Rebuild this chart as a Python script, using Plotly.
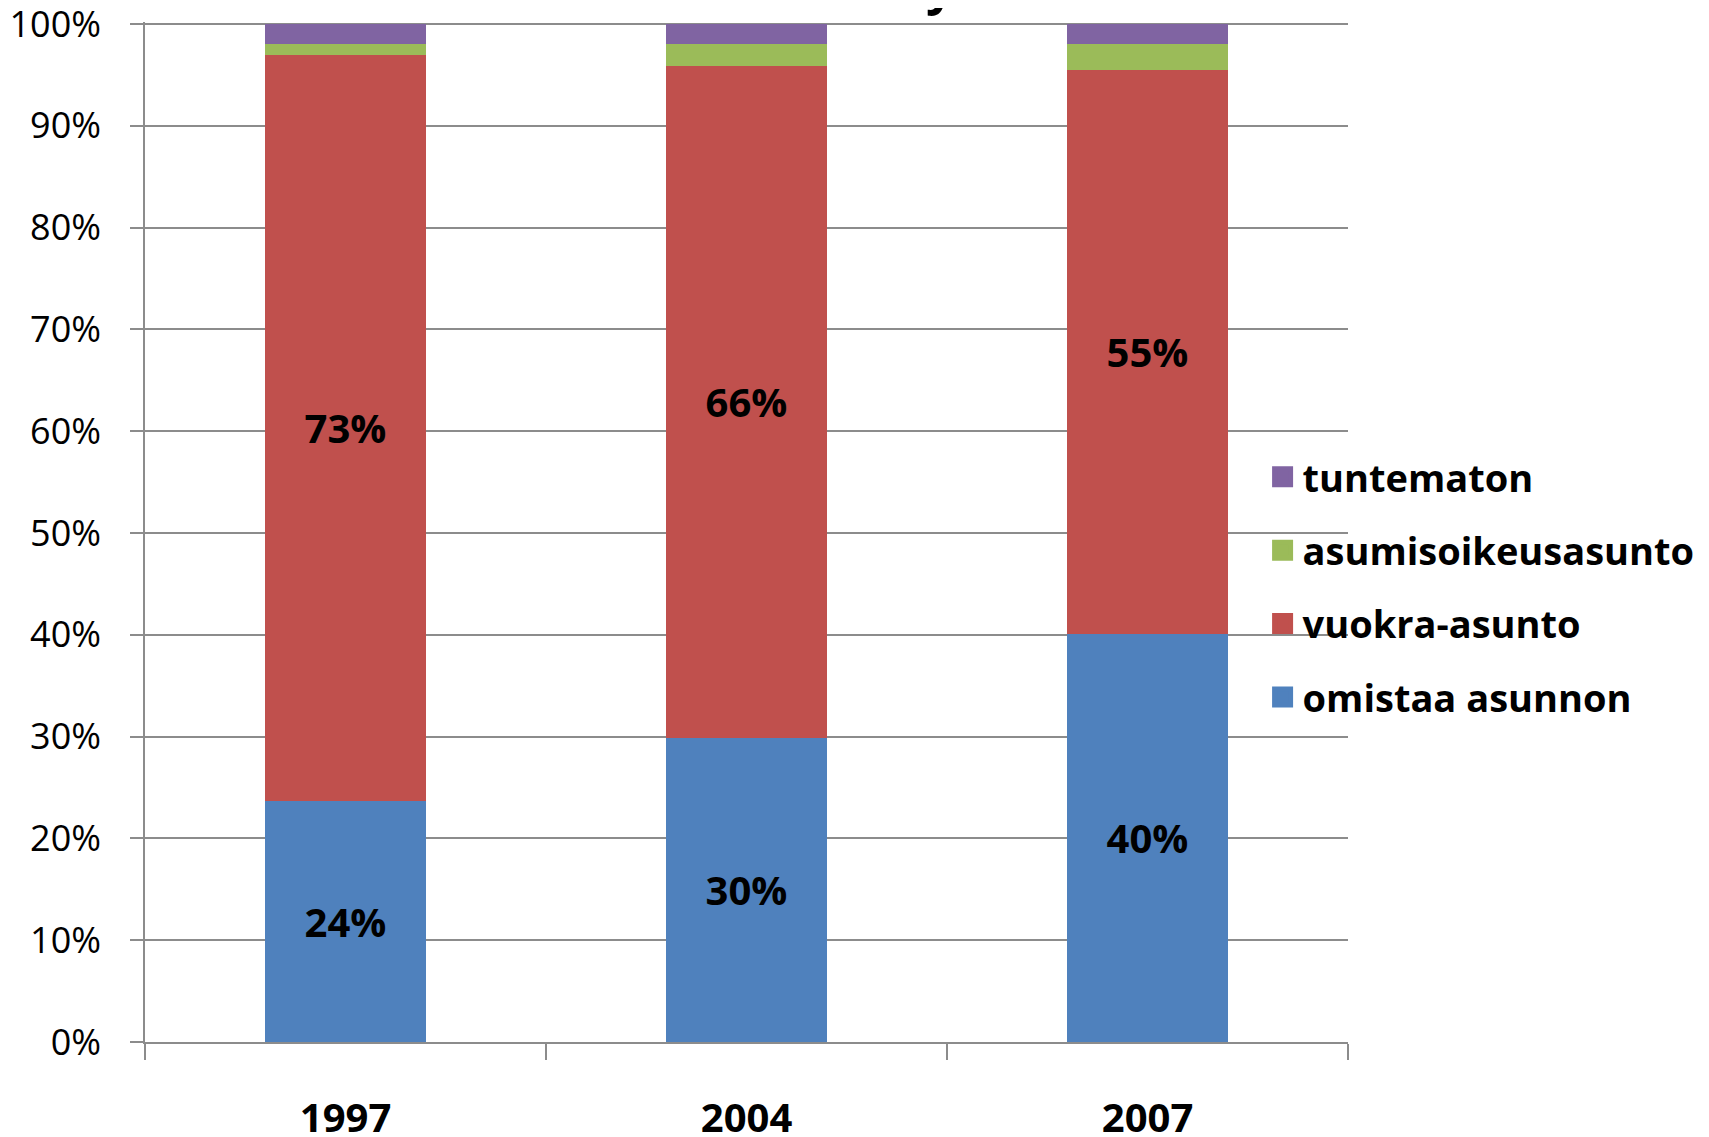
import plotly.graph_objects as go

years = ["1997", "2004", "2007"]
omistaa = [23.7, 29.9, 40.1]
vuokra = [73.3, 66.0, 55.4]
asumisoikeus = [1.0, 2.1, 2.5]
tuntematon = [2.0, 2.0, 2.0]

series = [
    ("omistaa asunnon", omistaa, "#4F81BD", True, 4),
    ("vuokra-asunto", vuokra, "#C0504D", True, 3),
    ("asumisoikeusasunto", asumisoikeus, "#9BBB59", False, 2),
    ("tuntematon", tuntematon, "#8064A2", False, 1),
]

fig = go.Figure()
for name, vals, color, lab, rank in series:
    fig.add_trace(go.Bar(
        x=years, y=vals, name=name, legendgroup=name, showlegend=False,
        marker=dict(color=color, line=dict(width=0)),
        text=[f"{v:.0f}%" for v in vals] if lab else None,
        textposition="inside" if lab else "none",
        insidetextanchor="middle",
        textangle=0,
        constraintext="none",
        textfont=dict(family="Open Sans", size=40, color="black", weight="bold"),
        hoverinfo="skip",
    ))
# legend entries with larger square swatches
for name, vals, color, lab, rank in series:
    fig.add_trace(go.Scatter(
        x=[None], y=[None], mode="markers", name=name, legendgroup=name,
        legendrank=rank, showlegend=True,
        marker=dict(symbol="square", size=16, color=color,
                    line=dict(color=color, width=5)),
        hoverinfo="skip",
    ))

fig.update_layout(
    width=1701, height=1129,
    margin=dict(l=137, r=361, t=14, b=95, autoexpand=False),
    paper_bgcolor="white", plot_bgcolor="white",
    barmode="stack", bargap=0.6,
    font=dict(family="Open Sans", color="black"),
    showlegend=True,
    legend=dict(
        x=0.929, xanchor="left", y=0.446, yanchor="middle",
        traceorder="grouped", tracegroupgap=21, itemsizing="trace",
        font=dict(family="Open Sans", size=38, color="black", weight="bold"),
        bgcolor="rgba(0,0,0,0)",
    ),
    xaxis=dict(
        type="category", tickson="boundaries", ticks="outside", ticklen=16,
        tickcolor="#8c8c8c", tickwidth=1.5, automargin=False,
        showline=True, linecolor="#8c8c8c", linewidth=1.5,
        showgrid=False,
        tickfont=dict(family="Open Sans", size=40, color="black", weight="bold"),
        ticklabelstandoff=40,
    ),
    yaxis=dict(
        range=[0, 100.2], tick0=0, dtick=10, ticksuffix="%", automargin=False,
        ticks="outside", ticklen=13, tickcolor="#8c8c8c", tickwidth=1.5,
        showline=True, linecolor="#8c8c8c", linewidth=1.5,
        showgrid=True, gridcolor="#8c8c8c", gridwidth=1.5,
        zeroline=False, ticklabelstandoff=22, ticklabeloverflow="allow",
        tickfont=dict(family="Open Sans", size=36, color="black"),
    ),
    annotations=[dict(
        text="y", xref="paper", yref="paper", x=0.661, y=1.001,
        xanchor="center", yanchor="bottom", showarrow=False,
        font=dict(family="Open Sans", size=50, color="black", weight="bold"),
    )],
)

fig.write_html("out.html")
